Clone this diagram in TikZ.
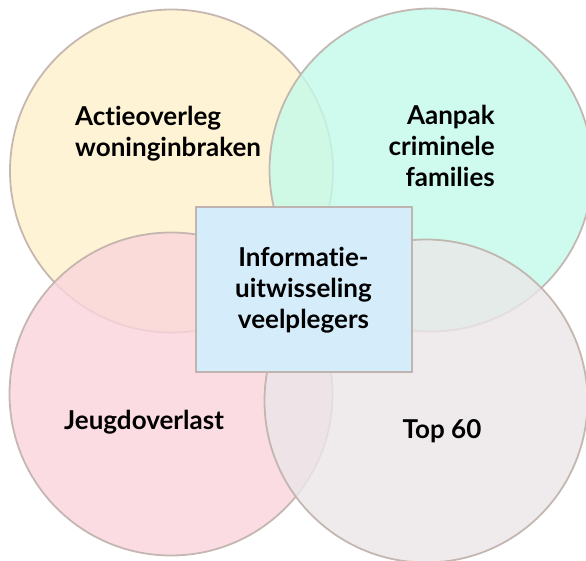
\documentclass[tikz,border=0pt]{standalone}
\usepackage{fontspec}
\setmainfont[Ligatures={NoCommon,NoRare}]{Lato}
\definecolor{edgec}{HTML}{BFB1AB}
\definecolor{yelc}{HTML}{FFF1CB}
\definecolor{mintc}{HTML}{C4FBEA}
\definecolor{pinkc}{HTML}{FBD4DC}
\definecolor{greyc}{HTML}{EBE7E8}
\definecolor{boxc}{HTML}{D5ECFA}
\definecolor{boxedge}{HTML}{C0B4B0}
\begin{document}
\begin{tikzpicture}[x=1pt,y=-1pt,
  venn/.style={circle,minimum size=323pt,inner sep=0pt,draw=edgec,line width=1.8pt,fill opacity=0.8,draw opacity=0.9},
  lbl/.style={font=\fontsize{26}{31}\selectfont\bfseries,inner sep=0pt},
  centerbox/.style={rectangle,draw=boxedge,fill=boxc,line width=2pt,minimum width=216pt,minimum height=165pt,inner sep=0pt}]
\useasboundingbox (0,0) rectangle (586,560);
\clip (0,0) rectangle (586,560);
\fill[white] (0,0) rectangle (586,560);
\node[venn,fill=yelc] (cyel) at (171.5,171) {};
\node[venn,fill=mintc] (cmint) at (431,170) {};
\node[venn,fill=pinkc] (cpink) at (171,394) {};
\node[venn,fill=greyc] (cgrey) at (426,401) {};
\node[centerbox] (box) at (303.5,289) {};
\node[lbl,align=center] (tbox) at (303.5,290) {Informatie-\\uitwisseling\\veelplegers};
\node[lbl,align=left,anchor=west] (tyel) at (75,134) {Actieoverleg\\woninginbraken};
\node[lbl,align=right,anchor=east] (tmint) at (495,146) {Aanpak\\criminele\\families};
\node[lbl] (tpink) at (144,422) {Jeugdoverlast};
\node[lbl] (tgrey) at (442,431) {Top 60};
\end{tikzpicture}
\end{document}
